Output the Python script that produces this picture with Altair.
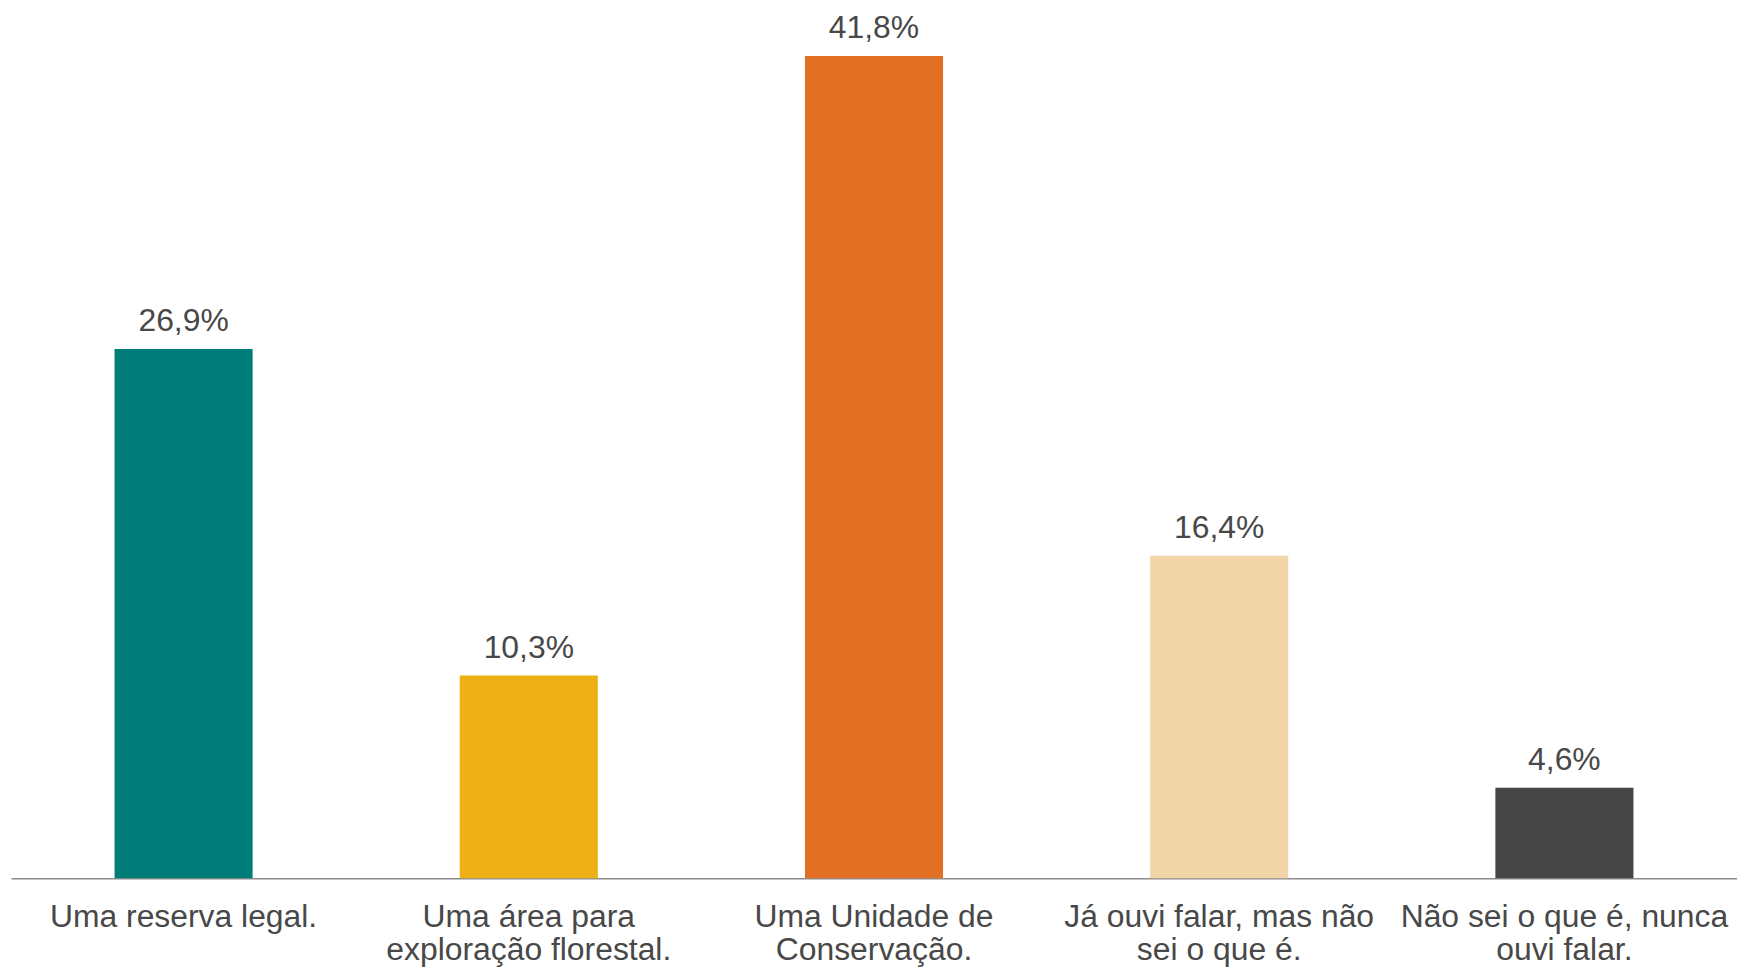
import altair as alt
import pandas as pd

categories = [
    "Uma reserva legal.",
    "Uma área para\nexploração florestal.",
    "Uma Unidade de\nConservação.",
    "Já ouvi falar, mas não\nsei o que é.",
    "Não sei o que é, nunca\nouvi falar.",
]
values = [26.9, 10.3, 41.8, 16.4, 4.6]
colors = ["#007D78", "#EDB115", "#E17024", "#F3D5AA", "#464646"]

df = pd.DataFrame({
    "cat": categories,
    "val": values,
    "label": [f"{v:.1f}".replace(".", ",") + "%" for v in values],
})

x = alt.X(
    "cat:N",
    sort=None,
    title=None,
    scale=alt.Scale(paddingInner=0.6, paddingOuter=0.3),
    axis=alt.Axis(
        labelAngle=0,
        labelExpr="split(datum.label, '\\n')",
        labelFont="Liberation Sans, Arial, sans-serif",
        labelFontSize=32,
        labelColor="#484848",
        labelLineHeight=33,
        labelPadding=24,
        labelLimit=0,
        labelBaseline="top",
        ticks=False,
        tickSize=0,
        domainColor="#8C8C8C",
        domainWidth=1.5,
        grid=False,
    ),
)
y = alt.Y(
    "val:Q",
    title=None,
    scale=alt.Scale(domain=[0, 44.03], nice=False, zero=True),
    axis=None,
)

bars = alt.Chart(df).mark_bar().encode(
    x=x,
    y=y,
    color=alt.Color("cat:N", sort=None, scale=alt.Scale(domain=categories, range=colors), legend=None),
)

texts = alt.Chart(df).mark_text(
    baseline="alphabetic",
    align="center",
    dy=-18,
    font="Liberation Sans, Arial, sans-serif",
    fontSize=32,
    color="#484848",
).encode(x=x, y=y, text="label:N")

chart = (
    alt.layer(bars, texts)
    .properties(
        width=1734,
        height=870,
        background="white",
        autosize=alt.AutoSizeParams(type="none"),
        padding={"left": 3, "top": 2, "right": 0, "bottom": 88},
    )
    .configure_view(strokeWidth=0, stroke="transparent")
)

chart.save("out.html", embed_options={"renderer": "svg", "actions": False})
